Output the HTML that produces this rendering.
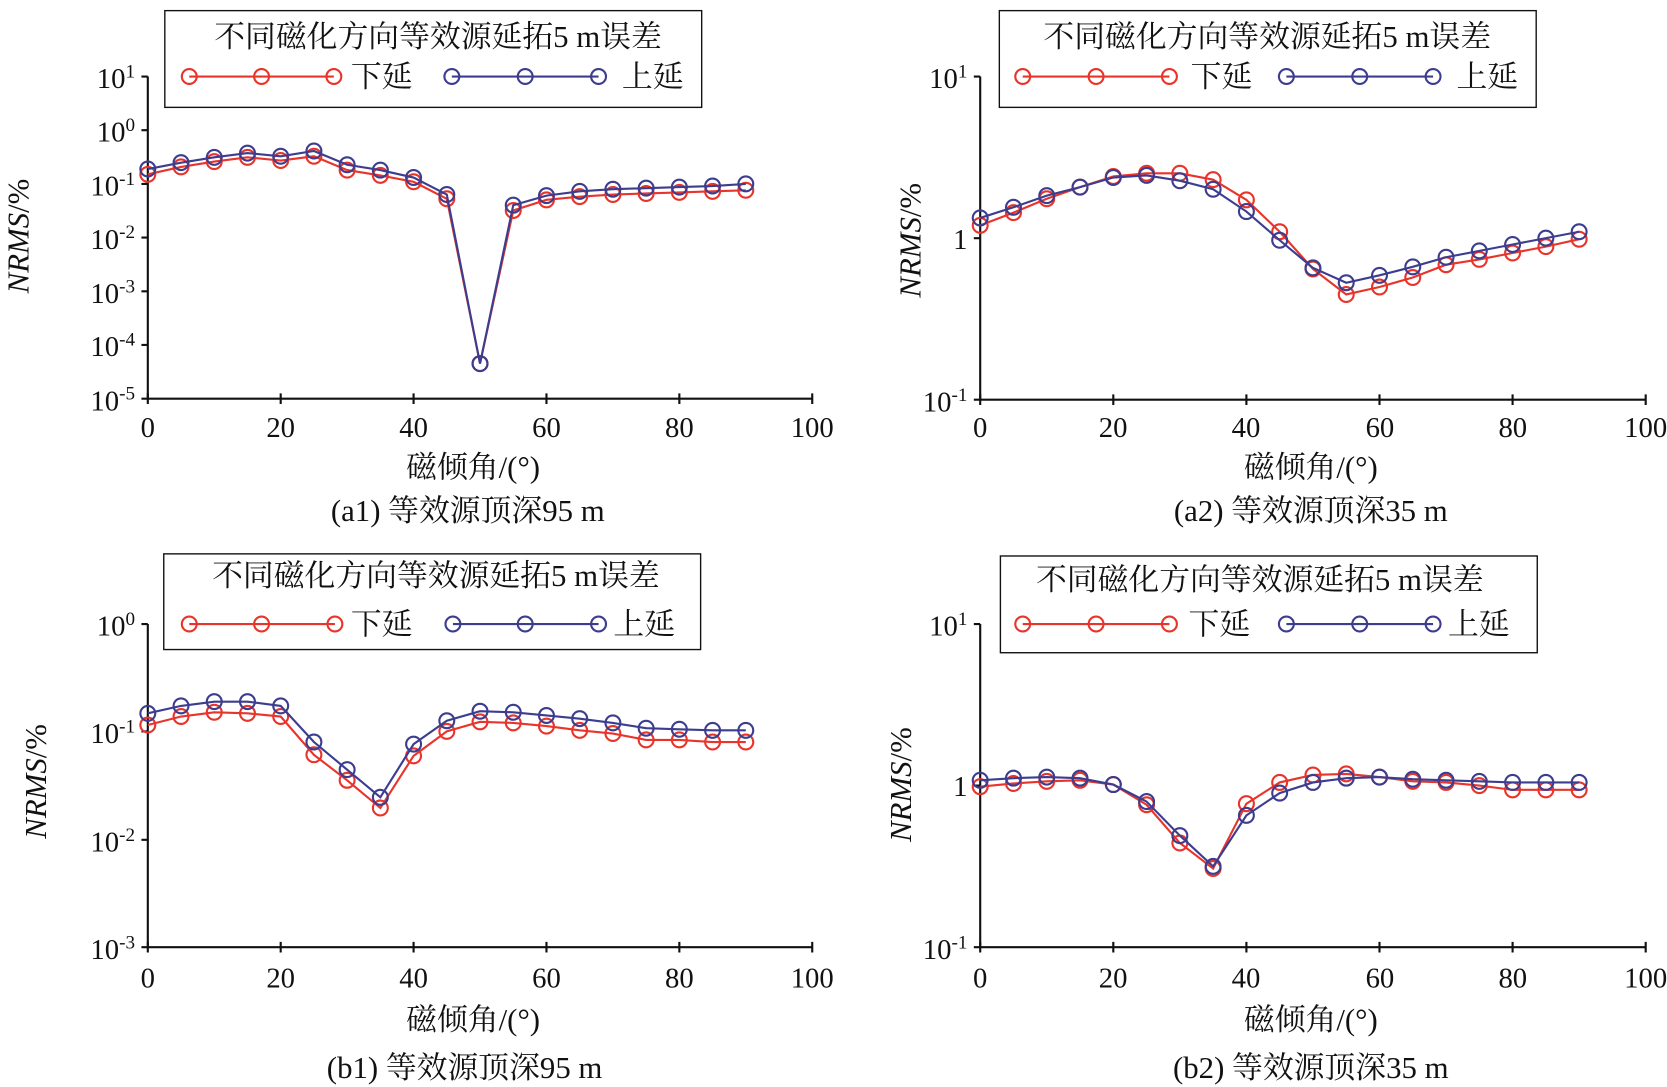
<!DOCTYPE html>
<html><head><meta charset="utf-8"><style>
html,body{margin:0;padding:0;background:#fff;}
svg{display:block;}
text{font-family:"Liberation Serif","Noto Serif CJK SC",serif;fill:#111;}
.c{font-size:29px;}
</style></head><body>
<svg id="s" width="1667" height="1087" viewBox="0 0 1568 1022.5" xmlns="http://www.w3.org/2000/svg">
<g font-size="27">
<!-- a1 -->
<g stroke="#111" stroke-width="2" fill="none">
<path d="M139,72 V375 H764"/>
<path d="M133,72H139M133,122.5H139M133,173H139M133,223.5H139M133,274H139M133,324.5H139M133,375H139"/>
<path d="M139,370v10M264,370v10M389,370v10M514,370v10M639,370v10M764,370v10"/>
<rect x="155" y="10" width="505" height="91" stroke-width="1.3"/>
</g>
<g text-anchor="end">
<text x="127" y="83">10<tspan dy="-10" font-size="18">1</tspan></text>
<text x="127" y="133">10<tspan dy="-10" font-size="18">0</tspan></text>
<text x="127" y="184">10<tspan dy="-10" font-size="18">-1</tspan></text>
<text x="127" y="234">10<tspan dy="-10" font-size="18">-2</tspan></text>
<text x="127" y="285">10<tspan dy="-10" font-size="18">-3</tspan></text>
<text x="127" y="335">10<tspan dy="-10" font-size="18">-4</tspan></text>
<text x="127" y="386">10<tspan dy="-10" font-size="18">-5</tspan></text>
</g>
<g text-anchor="middle">
<text x="139" y="411">0</text><text x="264" y="411">20</text><text x="389" y="411">40</text><text x="514" y="411">60</text><text x="639" y="411">80</text><text x="764" y="411">100</text>
<text class="c" x="445" y="449">磁倾角/(°)</text>
<text class="c" x="440" y="490">(a1) 等效源顶深95 m</text>
<text class="c" x="412" y="44">不同磁化方向等效源延拓5 m误差</text>
<text class="c" transform="translate(27,222) rotate(-90)"><tspan font-style="italic">NRMS</tspan>/%</text>
</g>
<text class="c" x="330" y="82">下延</text><text class="c" x="585" y="82">上延</text>

<!-- a2 -->
<g stroke="#111" stroke-width="2" fill="none">
<path d="M922,72 V376 H1548"/>
<path d="M916,72H922M916,224H922M916,376H922"/>
<path d="M922,371v10M1047.2,371v10M1172.4,371v10M1297.6,371v10M1422.8,371v10M1548,371v10"/>
<rect x="940" y="10" width="505" height="91" stroke-width="1.3"/>
</g>
<g text-anchor="end">
<text x="910" y="83">10<tspan dy="-10" font-size="18">1</tspan></text>
<text x="910" y="234">1</text>
<text x="910" y="387">10<tspan dy="-10" font-size="18">-1</tspan></text>
</g>
<g text-anchor="middle">
<text x="922" y="411">0</text><text x="1047" y="411">20</text><text x="1172" y="411">40</text><text x="1298" y="411">60</text><text x="1423" y="411">80</text><text x="1548" y="411">100</text>
<text class="c" x="1233" y="449">磁倾角/(°)</text>
<text class="c" x="1233" y="490">(a2) 等效源顶深35 m</text>
<text class="c" x="1192" y="44">不同磁化方向等效源延拓5 m误差</text>
<text class="c" transform="translate(866,226) rotate(-90)"><tspan font-style="italic">NRMS</tspan>/%</text>
</g>
<text class="c" x="1120" y="82">下延</text><text class="c" x="1370" y="82">上延</text>

<!-- b1 -->
<g stroke="#111" stroke-width="2" fill="none">
<path d="M139,587 V891 H764"/>
<path d="M133,587H139M133,688H139M133,790H139M133,891H139"/>
<path d="M139,886v10M264,886v10M389,886v10M514,886v10M639,886v10M764,886v10"/>
<rect x="154" y="521" width="505" height="90" stroke-width="1.3"/>
</g>
<g text-anchor="end">
<text x="127" y="598">10<tspan dy="-10" font-size="18">0</tspan></text>
<text x="127" y="699">10<tspan dy="-10" font-size="18">-1</tspan></text>
<text x="127" y="801">10<tspan dy="-10" font-size="18">-2</tspan></text>
<text x="127" y="902">10<tspan dy="-10" font-size="18">-3</tspan></text>
</g>
<g text-anchor="middle">
<text x="139" y="929">0</text><text x="264" y="929">20</text><text x="389" y="929">40</text><text x="514" y="929">60</text><text x="639" y="929">80</text><text x="764" y="929">100</text>
<text class="c" x="445" y="969">磁倾角/(°)</text>
<text class="c" x="437" y="1014">(b1) 等效源顶深95 m</text>
<text class="c" x="410" y="551">不同磁化方向等效源延拓5 m误差</text>
<text class="c" transform="translate(43,735) rotate(-90)"><tspan font-style="italic">NRMS</tspan>/%</text>
</g>
<text class="c" x="330" y="597">下延</text><text class="c" x="577" y="597">上延</text>

<!-- b2 -->
<g stroke="#111" stroke-width="2" fill="none">
<path d="M922,587 V891 H1548"/>
<path d="M916,587H922M916,739H922M916,891H922"/>
<path d="M922,886v10M1047.2,886v10M1172.4,886v10M1297.6,886v10M1422.8,886v10M1548,886v10"/>
<rect x="941" y="523" width="505" height="91" stroke-width="1.3"/>
</g>
<g text-anchor="end">
<text x="910" y="598">10<tspan dy="-10" font-size="18">1</tspan></text>
<text x="910" y="749">1</text>
<text x="910" y="902">10<tspan dy="-10" font-size="18">-1</tspan></text>
</g>
<g text-anchor="middle">
<text x="922" y="929">0</text><text x="1047" y="929">20</text><text x="1172" y="929">40</text><text x="1298" y="929">60</text><text x="1423" y="929">80</text><text x="1548" y="929">100</text>
<text class="c" x="1233" y="969">磁倾角/(°)</text>
<text class="c" x="1233" y="1014">(b2) 等效源顶深35 m</text>
<text class="c" x="1185" y="555">不同磁化方向等效源延拓5 m误差</text>
<text class="c" transform="translate(857,738) rotate(-90)"><tspan font-style="italic">NRMS</tspan>/%</text>
</g>
<text class="c" x="1118" y="597">下延</text><text class="c" x="1362" y="597">上延</text>
</g>
<g id="series"></g>
</svg>
<script>
var R="#e8342a",B="#3c3d8f";
var panels=[
 {x0:139,r:[164,157,152,148,151,147,160,165,171,187,342,198,188,185,183,182,181,180,179],
  b:[159,153,148,144,147,142,155,160,167,183,342,193,184,180,178,177,176,175,173]},
 {x0:922,r:[212,200,187,176,166,163,163,169,188,218,253,277,270,261,249,244,238,232,225],
  b:[205,195,184,176,167,165,170,178,199,226,252,266,259,251,242,236,230,224,218]},
 {x0:139,r:[682,674,670,671,674,710,734,760,711,688,679,680,683,687,690,696,696,698,698],
  b:[671,664,660,660,664,698,724,750,700,678,669,670,673,676,680,685,686,687,687]},
 {x0:922,r:[740,737,735,734,738,757,793,817,756,736,729,728,731,735,736,739,743,743,743],
  b:[734,732,731,732,738,754,786,815,767,746,736,732,731,733,734,735,736,736,736]}];
var legs=[[178,246,314,425,494,563,72],[962,1031,1100,1210,1279,1348,72],[178,246,315,426,494,563,587],[962,1031,1100,1210,1279,1348,587]];
var h="";
function ser(pts,c){h+='<polyline points="'+pts.map(p=>p.join(",")).join(" ")+'" fill="none" stroke="'+c+'" stroke-width="2"/>';
 pts.forEach(p=>{h+='<circle cx="'+p[0]+'" cy="'+p[1]+'" r="7" fill="none" stroke="'+c+'" stroke-width="2"/>';});}
panels.forEach(function(P,k){
 var d=P.x0===139?6.25:6.26;
 ser(P.r.map((y,i)=>[P.x0+i*5*d,y]),R);
 ser(P.b.map((y,i)=>[P.x0+i*5*d,y]),B);
 var L=legs[k];
 ser([[L[0],L[6]],[L[1],L[6]],[L[2],L[6]]],R);
 ser([[L[3],L[6]],[L[4],L[6]],[L[5],L[6]]],B);
});
document.getElementById("series").innerHTML=h;
</script>
</body></html>
